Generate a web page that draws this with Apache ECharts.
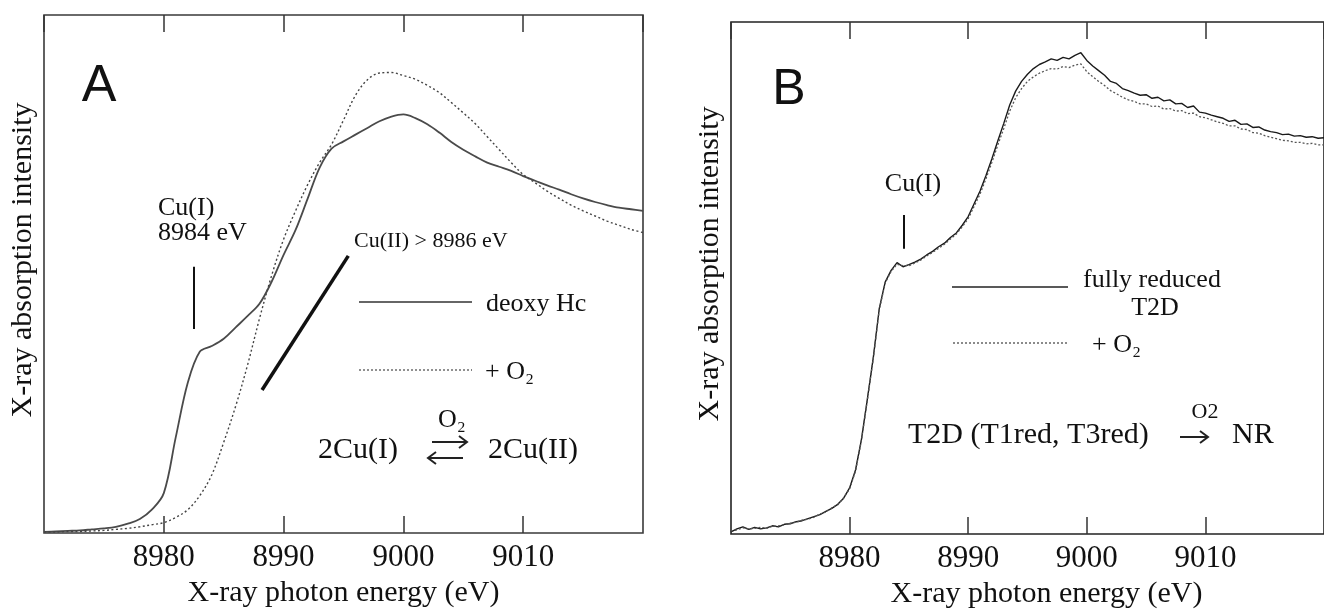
<!DOCTYPE html>
<html><head><meta charset="utf-8">
<script src="https://cdn.jsdelivr.net/npm/echarts@6/dist/echarts.min.js"></script>
<style>html,body{margin:0;padding:0;background:#fff}#c{width:1324px;height:614px}</style>
</head><body><div id="c"></div>
<script>
// ---------- DATA ----------
const xTicks = [8970, 8980, 8990, 9000, 9010, 9020];

// Panel A (deoxy hemocyanin)
const energyA = [8970,8971,8972,8973,8974,8975,8976,8977,8978,8979,
  8980,8981,8982,8983,8984,8985,8986,8987,8988,8989,
  8990,8991,8992,8993,8994,8995,8996,8997,8998,8999,
  9000,9001,9002,9003,9004,9005,9006,9007,9008,9009,
  9010,9011,9012,9013,9014,9015,9016,9017,9018,9019,9020];
const deoxyHc = [0.002,0.003,0.004,0.005,0.007,0.009,0.012,0.018,0.027,0.045,
  0.077,0.185,0.290,0.350,0.361,0.375,0.397,0.419,0.443,0.485,
  0.537,0.585,0.645,0.705,0.742,0.756,0.769,0.782,0.795,0.804,
  0.808,0.801,0.789,0.773,0.755,0.740,0.727,0.715,0.707,0.699,
  0.689,0.680,0.671,0.663,0.654,0.646,0.639,0.633,0.628,0.625,0.622];
const deoxyO2 = [0.002,0.002,0.003,0.003,0.004,0.005,0.007,0.009,0.012,0.016,
  0.020,0.030,0.045,0.072,0.112,0.175,0.245,0.325,0.415,0.497,
  0.567,0.622,0.672,0.715,0.750,0.797,0.845,0.875,0.888,0.889,
  0.883,0.876,0.864,0.850,0.831,0.811,0.790,0.765,0.740,0.715,
  0.692,0.676,0.660,0.646,0.633,0.622,0.612,0.602,0.594,0.586,0.580];

// Panel B (T2D laccase)
const energyB = [8970.0,8970.5,8971.0,8971.5,8972.0,8972.5,8973.0,8973.5,8974.0,8974.5,
  8975.0,8975.5,8976.0,8976.5,8977.0,8977.5,8978.0,8978.5,8979.0,8979.5,
  8980.0,8980.5,8981.0,8981.5,8982.0,8982.5,8983.0,8983.5,8984.0,8984.5,
  8985.0,8985.5,8986.0,8986.5,8987.0,8987.5,8988.0,8988.5,8989.0,8989.5,
  8990.0,8990.5,8991.0,8991.5,8992.0,8992.5,8993.0,8993.5,8994.0,8994.5,
  8995.0,8995.5,8996.0,8996.5,8997.0,8997.5,8998.0,8998.5,8999.0,8999.5,
  9000.0,9000.5,9001.0,9001.5,9002.0,9002.5,9003.0,9003.5,9004.0,9004.5,
  9005.0,9005.5,9006.0,9006.5,9007.0,9007.5,9008.0,9008.5,9009.0,9009.5,
  9010.0,9010.5,9011.0,9011.5,9012.0,9012.5,9013.0,9013.5,9014.0,9014.5,
  9015.0,9015.5,9016.0,9016.5,9017.0,9017.5,9018.0,9018.5,9019.0,9019.5,9020.0];
const t2dReduced = [0.004,0.010,0.014,0.009,0.013,0.010,0.012,0.016,0.014,0.019,
  0.020,0.024,0.026,0.030,0.034,0.038,0.044,0.050,0.058,0.070,
  0.090,0.125,0.185,0.264,0.345,0.440,0.492,0.515,0.530,0.522,
  0.526,0.531,0.537,0.545,0.552,0.561,0.568,0.579,0.588,0.603,
  0.620,0.645,0.670,0.700,0.733,0.768,0.802,0.838,0.865,0.884,
  0.898,0.909,0.917,0.922,0.928,0.925,0.931,0.928,0.935,0.940,
  0.925,0.914,0.905,0.896,0.884,0.880,0.870,0.866,0.861,0.857,
  0.858,0.851,0.853,0.846,0.848,0.840,0.841,0.833,0.836,0.824,
  0.822,0.818,0.815,0.812,0.806,0.808,0.800,0.801,0.794,0.795,
  0.789,0.786,0.784,0.780,0.781,0.777,0.778,0.775,0.776,0.773,0.774];
const t2dO2 = [0.006,0.008,0.012,0.010,0.011,0.013,0.011,0.015,0.016,0.018,
  0.021,0.023,0.027,0.029,0.033,0.039,0.043,0.051,0.057,0.071,
  0.088,0.123,0.183,0.262,0.343,0.438,0.490,0.513,0.527,0.524,
  0.524,0.529,0.535,0.543,0.550,0.558,0.566,0.576,0.586,0.600,
  0.616,0.640,0.664,0.694,0.726,0.760,0.792,0.826,0.852,0.870,
  0.884,0.893,0.900,0.905,0.909,0.908,0.913,0.911,0.916,0.918,
  0.903,0.893,0.884,0.876,0.866,0.860,0.853,0.848,0.845,0.840,
  0.840,0.835,0.836,0.830,0.831,0.826,0.827,0.821,0.822,0.815,
  0.813,0.809,0.805,0.802,0.797,0.797,0.791,0.790,0.784,0.783,
  0.778,0.775,0.772,0.769,0.768,0.765,0.765,0.762,0.763,0.760,0.760];

// annotation marks in data units [energy, yLow, yHigh] / [e1, y1, e2, y2]
const cuIMarkA = [8982.5, 0.394, 0.514];
const cuIIBarA = [8988.2, 0.276, 8995.4, 0.535];
const cuIMarkB = [8984.6, 0.557, 0.623];

// ---------- CHART ----------
const SERIF = "'Liberation Serif','Times New Roman',serif";
const SANS = "'Liberation Sans',Arial,sans-serif";
const INK = '#111';
const pairs = (xs, ys) => xs.map((x, i) => [x, ys[i]]);

function xAxisDef(gridIndex, pos, withLabels, namePad) {
  return {
    type: 'value', gridIndex, position: pos, min: 8970, max: 9020, interval: 10,
    axisLine: { show: false },
    axisTick: { show: true, inside: true, length: 17, lineStyle: { color: '#333', width: 1.5 } },
    splitLine: { show: false },
    axisLabel: withLabels ? {
      show: true, margin: 9, color: INK, fontSize: 31, fontFamily: SERIF,
      showMinLabel: false, showMaxLabel: false,
      formatter: v => (v === 8970 || v === 9020) ? '' : String(v)
    } : { show: false },
    name: withLabels ? 'X-ray photon energy (eV)' : '',
    nameLocation: 'middle', nameGap: 44,
    nameTextStyle: { color: INK, fontSize: 30, fontFamily: SERIF, padding: namePad || 0 }
  };
}
function yAxisDef(gridIndex) {
  return {
    type: 'value', gridIndex, min: 0, max: 1,
    axisLine: { show: false }, axisTick: { show: false }, axisLabel: { show: false },
    splitLine: { show: false },
    name: 'X-ray absorption intensity', nameLocation: 'middle', nameGap: 6,
    nameTextStyle: { color: INK, fontSize: 30, fontFamily: SERIF, padding: [0, 0, 0, 28] }
  };
}
function T(x, y, text, size, align, fam) {
  return { type: 'text', x, y, silent: true,
    style: { text, fill: INK, font: size + 'px ' + (fam || SERIF),
      align: align || 'left', verticalAlign: 'middle', textAlign: align || 'left', textVerticalAlign: 'middle' } };
}
function L(x1, y1, x2, y2, w, dash, col) {
  return { type: 'line', silent: true, shape: { x1, y1, x2, y2 },
    style: { stroke: col || '#222', lineWidth: w, lineDash: dash || null } };
}
function P(points, w) {
  return { type: 'polyline', silent: true, shape: { points }, style: { stroke: '#222', lineWidth: w, fill: null } };
}
const markStyle = (w) => ({ color: '#111', width: w, type: 'solid' });

const option = {
  animation: false,
  backgroundColor: '#fff',
  grid: [
    { left: 44, top: 15, width: 599, height: 518, show: true, borderColor: '#3a3a3a', borderWidth: 1.6, backgroundColor: 'transparent' },
    { left: 731, top: 22, width: 600, height: 512, show: true, borderColor: '#222', borderWidth: 1.6, backgroundColor: 'transparent' }
  ],
  xAxis: [
    xAxisDef(0, 'bottom', true),
    xAxisDef(0, 'top', false),
    xAxisDef(1, 'bottom', true, [0, 0, 0, 38]),
    xAxisDef(1, 'top', false)
  ],
  yAxis: [yAxisDef(0), yAxisDef(1)],
  series: [
    { name: 'deoxy Hc', type: 'line', xAxisIndex: 0, yAxisIndex: 0, data: pairs(energyA, deoxyHc),
      symbol: 'none', smooth: 0.35, lineStyle: { color: '#4a4a4a', width: 1.8 },
      markLine: { silent: true, symbol: ['none', 'none'], label: { show: false },
        data: [
          [{ coord: [cuIMarkA[0], cuIMarkA[1]], lineStyle: markStyle(2) }, { coord: [cuIMarkA[0], cuIMarkA[2]] }],
          [{ coord: [cuIIBarA[0], cuIIBarA[1]], lineStyle: markStyle(3.5) }, { coord: [cuIIBarA[2], cuIIBarA[3]] }]
        ] } },
    { name: '+ O₂', type: 'line', xAxisIndex: 0, yAxisIndex: 0, data: pairs(energyA, deoxyO2),
      symbol: 'none', smooth: 0.35, lineStyle: { color: '#444', width: 1.4, type: [2, 2.5] } },
    { name: 'fully reduced T2D', type: 'line', xAxisIndex: 2, yAxisIndex: 1, data: pairs(energyB, t2dReduced),
      symbol: 'none', lineStyle: { color: '#1a1a1a', width: 1.4 },
      markLine: { silent: true, symbol: ['none', 'none'], label: { show: false },
        data: [[{ coord: [cuIMarkB[0], cuIMarkB[1]], lineStyle: markStyle(2) }, { coord: [cuIMarkB[0], cuIMarkB[2]] }]] } },
    { name: '+ O₂ (T2D)', type: 'line', xAxisIndex: 2, yAxisIndex: 1, data: pairs(energyB, t2dO2),
      symbol: 'none', lineStyle: { color: '#555', width: 1.3, type: [2, 2] } }
  ],
  graphic: [
    // Panel A
    T(99, 87, 'A', 52, 'center', SANS),
    T(158, 208, 'Cu(I)', 26),
    T(158, 233, '8984 eV', 26),
    T(354, 241, 'Cu(II) > 8986 eV', 22),
    L(359, 302, 472, 302, 1.5, null, '#333'),
    T(486, 304, 'deoxy Hc', 26),
    L(359, 370, 472, 370, 1.3, [2, 2], '#555'),
    T(485, 372, '+ O₂', 26),
    T(452, 420, 'O₂', 26, 'center'),
    L(432, 442, 467, 442, 2),
    P([[459, 436], [467, 442], [459, 448]], 2),
    L(428, 458, 463, 458, 2),
    P([[436, 452], [428, 458], [436, 464]], 2),
    T(358, 450, '2Cu(I)', 30, 'center'),
    T(533, 450, '2Cu(II)', 30, 'center'),
    // Panel B
    T(789, 90, 'B', 50, 'center', SANS),
    T(913, 184, 'Cu(I)', 26, 'center'),
    L(952, 287, 1068, 287, 1.5, null, '#222'),
    T(1083, 280, 'fully reduced', 26),
    T(1155, 308, 'T2D', 26, 'center'),
    L(953, 343, 1067, 343, 1.3, [2, 2], '#666'),
    T(1092, 345, '+ O₂', 26),
    T(908, 435, 'T2D (T1red, T3red)', 30),
    L(1180, 437, 1208, 437, 2),
    P([[1200, 431], [1208, 437], [1200, 443]], 2),
    T(1205, 412, 'O2', 22, 'center'),
    T(1232, 435, 'NR', 30)
  ]
};
const chart = echarts.init(document.getElementById('c'), null, { renderer: 'canvas' });
chart.setOption(option);
</script>
</body></html>
